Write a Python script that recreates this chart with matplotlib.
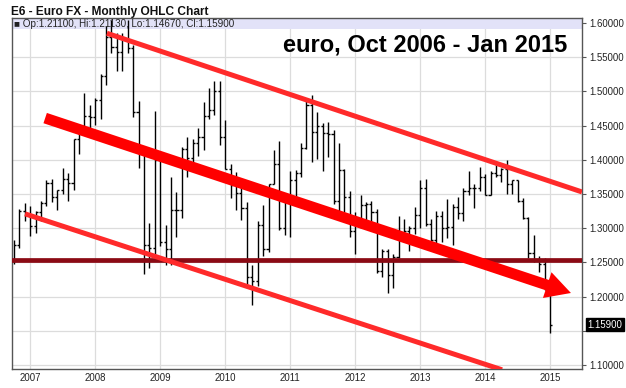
import matplotlib
matplotlib.use("Agg")
import matplotlib.pyplot as plt
from matplotlib.patches import FancyArrowPatch, Rectangle
import numpy as np
import pandas as pd

# monthly OHLC, Oct 2006 .. Jan 2015
months = pd.date_range("2006-10-01", "2015-01-01", freq="MS")

opens = [1.2530, 1.2760, 1.3250, 1.3200, 1.3030, 1.3230, 1.3370, 1.3660, 1.3460, 1.3560, 1.3720, 1.3660,
         1.4300, 1.4500, 1.4640, 1.4620, 1.4880, 1.5230, 1.5800, 1.5650, 1.5580, 1.5770, 1.5640, 1.4700,
         1.4150, 1.2760, 1.2710, 1.3990, 1.2800, 1.2700, 1.3260, 1.3260, 1.4160, 1.4030, 1.4250, 1.4340,
         1.4640, 1.4730, 1.5010, 1.4330, 1.3870, 1.3630, 1.3510, 1.3300, 1.2280, 1.2230, 1.3050, 1.2690,
         1.3640, 1.3940, 1.3000, 1.3380, 1.3700, 1.3810, 1.4170, 1.4800, 1.4400, 1.4500, 1.4390, 1.4370,
         1.3400, 1.3850, 1.3450, 1.2960, 1.3090, 1.3340, 1.3350, 1.3240, 1.2380, 1.2670, 1.2310, 1.2580,
         1.2860, 1.2960, 1.3000, 1.3200, 1.3590, 1.3060, 1.2830, 1.3180, 1.3000, 1.3020, 1.3310, 1.3220,
         1.3540, 1.3590, 1.3590, 1.3750, 1.3490, 1.3810, 1.3780, 1.3870, 1.3640, 1.3700, 1.3400, 1.3150,
         1.2640, 1.2550, 1.2470, 1.2110]
highs = [1.2830, 1.3280, 1.3370, 1.3330, 1.3250, 1.3400, 1.3700, 1.3720, 1.3560, 1.3880, 1.3800, 1.4300,
         1.4520, 1.4970, 1.4800, 1.4900, 1.5250, 1.5950, 1.6040, 1.5860, 1.5850, 1.6040, 1.5680, 1.4860,
         1.4150, 1.3080, 1.4720, 1.4000, 1.3050, 1.3750, 1.3530, 1.4180, 1.4330, 1.4300, 1.4460, 1.4840,
         1.5050, 1.5150, 1.5150, 1.4580, 1.3940, 1.3820, 1.3690, 1.3380, 1.2460, 1.3110, 1.3340, 1.3650,
         1.4150, 1.4280, 1.3500, 1.3830, 1.3850, 1.4250, 1.4880, 1.4950, 1.4700, 1.4540, 1.4550, 1.4430,
         1.4240, 1.3860, 1.3540, 1.3230, 1.3490, 1.3390, 1.3400, 1.3280, 1.2700, 1.2690, 1.2630, 1.3180,
         1.3140, 1.3030, 1.3310, 1.3710, 1.3720, 1.3140, 1.3250, 1.3250, 1.3420, 1.3350, 1.3450, 1.3590,
         1.3840, 1.3640, 1.3900, 1.3790, 1.3840, 1.3950, 1.3880, 1.3990, 1.3700, 1.3700, 1.3440, 1.3160,
         1.2900, 1.2600, 1.2570, 1.2113]
lows = [1.2480, 1.2710, 1.3100, 1.2890, 1.2930, 1.3100, 1.3320, 1.3390, 1.3260, 1.3500, 1.3400, 1.3560,
        1.4080, 1.4380, 1.4350, 1.4510, 1.4600, 1.5100, 1.5560, 1.5300, 1.5300, 1.5560, 1.4620, 1.3880,
        1.2330, 1.2420, 1.2620, 1.2740, 1.2460, 1.2460, 1.2870, 1.3150, 1.3750, 1.3840, 1.4060, 1.4140,
        1.4590, 1.4650, 1.4220, 1.3860, 1.3440, 1.3270, 1.3120, 1.2140, 1.1880, 1.2150, 1.2590, 1.2650,
        1.3650, 1.2970, 1.2900, 1.2870, 1.3440, 1.3750, 1.4160, 1.3970, 1.4010, 1.3840, 1.4040, 1.3360,
        1.3150, 1.3230, 1.2870, 1.2620, 1.3000, 1.3000, 1.3000, 1.2350, 1.2290, 1.2050, 1.2130, 1.2570,
        1.2800, 1.2660, 1.2920, 1.3000, 1.3030, 1.2750, 1.2750, 1.2800, 1.2860, 1.2760, 1.3130, 1.3110,
        1.3480, 1.3300, 1.3540, 1.3490, 1.3490, 1.3750, 1.3680, 1.3500, 1.3500, 1.3380, 1.3130, 1.2570,
        1.2500, 1.2360, 1.2100, 1.1467]
closes = [1.2760, 1.3250, 1.3200, 1.3030, 1.3230, 1.3370, 1.3660, 1.3460, 1.3560, 1.3720, 1.3660, 1.4300,
          1.4500, 1.4640, 1.4620, 1.4880, 1.5230, 1.5800, 1.5650, 1.5580, 1.5770, 1.5640, 1.4700, 1.4150,
          1.2760, 1.2710, 1.3990, 1.2800, 1.2700, 1.3260, 1.3260, 1.4160, 1.4030, 1.4250, 1.4340, 1.4640,
          1.4730, 1.5010, 1.4330, 1.3870, 1.3630, 1.3510, 1.3300, 1.2280, 1.2230, 1.3050, 1.2690, 1.3640,
          1.3940, 1.3000, 1.3380, 1.3700, 1.3810, 1.4170, 1.4800, 1.4400, 1.4500, 1.4390, 1.4370, 1.3400,
          1.3850, 1.3450, 1.2960, 1.3090, 1.3340, 1.3350, 1.3240, 1.2380, 1.2670, 1.2310, 1.2580, 1.2860,
          1.2960, 1.3000, 1.3200, 1.3590, 1.3060, 1.2830, 1.3180, 1.3000, 1.3020, 1.3310, 1.3220, 1.3540,
          1.3590, 1.3590, 1.3750, 1.3490, 1.3810, 1.3780, 1.3870, 1.3640, 1.3700, 1.3400, 1.3150, 1.2640,
          1.2550, 1.2470, 1.2110, 1.1590]

year_ticks = list(range(2007, 2016))
price_ticks = [1.10, 1.15, 1.20, 1.25, 1.30, 1.35, 1.40, 1.45, 1.50, 1.55, 1.60]

# trend lines drawn on the chart (decimal year, price)
upper_line = [(2008.18, 1.585), (2015.49, 1.353)]
lower_line = [(2006.92, 1.321), (2014.26, 1.093)]
trend_arrow = [(2007.23, 1.461), (2015.32, 1.2053)]
support_level = 1.2535

title = "E6 - Euro FX - Monthly OHLC Chart"
legend_text = "\u25a0 Op:1.21100, Hi:1.21130, Lo:1.14670, Cl:1.15900"
note = "euro, Oct 2006 - Jan 2015"
last_label = "1.15900"


def main():
    plt.rcParams['font.family'] = ['Liberation Sans', 'DejaVu Sans']
    fig = plt.figure(figsize=(6.26, 3.88), dpi=100)
    ax = fig.add_axes([0.0192, 0.049, 0.9105, 0.9046])

    x = months.year + (months.month - 1) / 12.0
    x = np.asarray(x, dtype=float)
    tick = 0.032

    # OHLC bars
    ax.vlines(x, lows, highs, color='black', lw=1.0, zorder=3)
    ax.hlines(opens, x - tick, x, color='black', lw=1.0, zorder=3)
    ax.hlines(closes, x, x + tick, color='black', lw=1.0, zorder=3)

    # support line
    ax.axhline(support_level, color='#8b0a14', lw=3.4, zorder=4)

    # channel lines
    for ln in (upper_line, lower_line):
        ax.plot([ln[0][0], ln[1][0]], [ln[0][1], ln[1][1]], color='#ff2a2a',
                lw=3.6, solid_capstyle='butt', zorder=5)

    # big red arrow
    arr = FancyArrowPatch(trend_arrow[0], trend_arrow[1],
                          arrowstyle='simple,head_length=1.8,head_width=1.95,tail_width=0.78',
                          mutation_scale=10, color='#ff0000', lw=0,
                          shrinkA=0, shrinkB=0, zorder=6)
    ax.add_patch(arr)

    ax.set_xlim(2006.72, 2015.49)
    ax.set_ylim(1.0942, 1.6073)

    ax.set_xticks(year_ticks)
    ax.set_xticklabels([str(y) for y in year_ticks])
    ax.set_yticks(price_ticks)
    # the last-price box covers the 1.15 label
    ax.set_yticklabels(['' if abs(p - 1.15) < 1e-9 else '%.5f' % p for p in price_ticks])
    ax.yaxis.tick_right()
    ax.tick_params(axis='y', direction='out', length=3, width=0.8, colors='#555555',
                   labelsize=6.9, labelcolor='#222222', pad=2)
    ax.tick_params(axis='x', direction='out', length=0, labelsize=6.9,
                   labelcolor='#222222', pad=3)
    ax.grid(True, color='#dcdcdc', lw=0.9, zorder=0)
    ax.set_axisbelow(True)
    for s in ax.spines.values():
        s.set_color('#555555')
        s.set_linewidth(1.0)

    # lavender info band
    ax.add_patch(Rectangle((0, 0.968), 1, 0.032, transform=ax.transAxes,
                           facecolor='#e2e2f8', edgecolor='none', zorder=2))
    ax.text(0.003, 0.984, legend_text, transform=ax.transAxes, fontsize=7.1,
            va='center', ha='left', color='#222222', zorder=7)

    ax.text(0.975, 0.923, note, transform=ax.transAxes, fontsize=17,
            fontweight='bold', va='center', ha='right', color='black', zorder=7)

    fig.text(0.018, 0.969, title, fontsize=8.6, fontweight='bold',
             va='center', ha='left', color='#111111')

    # last price marker on right axis
    ax.annotate(last_label, xy=(1.0, closes[-1]), xycoords=('axes fraction', 'data'),
                xytext=(4, 0), textcoords='offset points', fontsize=6.9,
                color='white', va='center', ha='left',
                bbox=dict(boxstyle='square,pad=0.15', facecolor='black', edgecolor='black'),
                annotation_clip=False, zorder=8)

    fig.savefig('out.png', dpi=100, facecolor='white')
    plt.close(fig)


if __name__ == "__main__":
    main()
